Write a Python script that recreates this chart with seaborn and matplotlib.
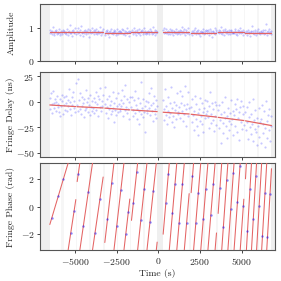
import numpy as np
import pandas as pd
import seaborn as sns
import matplotlib.pyplot as plt

# scans (s)
scan_start = [-6510, -4870, -3210, -1610, 290, 1970, 3590, 5230]
scan_end = [-4950, -3310, -1710, -70, 1850, 3490, 5130, 6790]

# amplitude: model per scan and measured points
amp_model = [0.87, 0.87, 0.86, 0.87, 0.87, 0.86, 0.87, 0.86]
amp_points = [
    [0.85, 0.93, 0.88, 0.81, 0.90, 1.02, 0.86, 0.79, 0.92, 0.87, 0.95, 0.83, 0.89, 0.84, 0.97, 0.86, 0.78, 0.91, 0.88, 0.82,
     0.94, 0.87, 0.90, 0.85, 0.89, 0.83, 0.96, 0.87, 0.80, 0.91, 0.86, 1.08, 0.84, 0.90, 0.77, 0.93, 0.88, 0.85, 0.99, 0.82],
    [0.91, 0.84, 0.99, 0.87, 0.80, 0.93, 1.05, 0.86, 0.89, 0.76, 0.92, 0.85, 0.95, 0.88, 0.82, 0.90, 0.97, 0.84, 0.72, 0.89,
     0.93, 0.86, 1.01, 0.88, 0.87, 0.94, 0.83, 0.90, 0.86, 0.98, 0.81, 0.89, 0.92, 0.85, 1.04, 0.88, 0.79, 0.91, 0.84, 0.96],
    [0.86, 0.80, 0.92, 0.88, 0.95, 0.83, 0.87, 0.74, 0.90, 0.85, 0.98, 0.84, 0.89, 0.81, 0.93, 0.87, 0.90, 0.79, 0.85, 0.96,
     0.88, 0.83, 0.91, 0.86, 0.90, 0.84, 0.88, 0.97, 0.82, 0.93, 0.86, 0.79, 0.91, 0.87, 1.00, 0.85, 0.89, 0.76, 0.92, 0.88],
    [0.89, 0.94, 0.83, 0.87, 1.00, 0.85, 0.91, 0.78, 0.88, 0.93, 0.84, 0.97, 0.86, 0.80, 0.92, 0.87, 0.95, 0.82, 0.89, 0.99,
     0.85, 0.90, 0.83, 0.88, 0.85, 0.92, 0.88, 0.81, 0.96, 0.87, 0.90, 0.83, 1.03, 0.86, 0.89, 0.79, 0.93, 0.84, 0.91, 0.87],
    [0.93, 0.86, 1.00, 0.89, 0.84, 0.96, 0.88, 0.81, 0.92, 0.87, 0.98, 0.83, 0.90, 0.86, 0.94, 0.79, 0.88, 0.91, 0.85, 0.97,
     0.87, 0.82, 0.90, 0.86, 0.88, 0.95, 0.82, 0.90, 1.04, 0.86, 0.91, 0.84, 0.97, 0.80, 0.89, 0.93, 0.85, 0.99, 0.87, 0.83],
    [0.84, 0.90, 0.78, 0.88, 0.93, 0.85, 0.99, 0.87, 0.81, 0.91, 0.86, 0.95, 0.83, 0.88, 0.76, 0.92, 0.87, 0.84, 0.96, 0.89,
     0.82, 0.90, 0.86, 0.93, 0.91, 0.85, 0.94, 0.80, 0.88, 0.97, 0.84, 0.90, 0.74, 0.87, 0.92, 0.86, 1.01, 0.83, 0.89, 0.95],
    [0.88, 0.95, 0.84, 0.91, 1.03, 0.86, 0.82, 0.93, 0.89, 0.79, 0.90, 0.97, 0.85, 0.88, 0.92, 0.83, 0.95, 0.87, 0.81, 0.90,
     0.94, 0.86, 0.89, 0.84, 0.85, 0.91, 0.97, 0.83, 0.88, 0.79, 0.94, 0.86, 0.90, 1.01, 0.84, 0.92, 0.87, 0.80, 0.93, 0.89],
    [0.86, 0.92, 0.80, 0.89, 0.95, 0.84, 0.88, 0.77, 0.91, 0.87, 1.07, 0.85, 0.90, 0.82, 0.94, 0.88, 0.79, 0.92, 0.86, 0.98,
     0.84, 0.89, 0.83, 0.87, 0.90, 0.84, 0.95, 0.88, 0.81, 0.93, 0.86, 1.13, 0.89, 0.78, 0.92, 0.85, 0.97, 0.87, 0.83, 0.91],
]

# fringe delay (ns): model at scan start / end and measured points
delay_model_start = [-3.2, -4.9, -6.3, -8.1, -10.3, -12.3, -15.3, -18.7]
delay_model_end = [-4.8, -6.1, -8.0, -9.7, -12.0, -15.0, -18.4, -23.3]
delay_points = [
    [4, -7, 8, -2, -11, 10, -1, -6, 3, -9, 0, 6, -5, -2, -10, 3, -14, -4, 7, 1,
     -12, 5, -3, -8, -1, 6, -9, 2, -4, 12, -7, 0, -13, 5, -3, 9, -6, 1, -10, 18],
    [-3, 22, -9, 2, -7, 8, -12, -4, 5, -1, -15, 3, -8, 11, -6, 0, -10, 4, -3, -13,
     7, -5, -9, 1, -6, 4, -11, 0, 9, -8, -2, 6, -14, 3, -5, 13, -9, 1, -4, 7],
    [-2, 14, -11, -5, 3, -16, -7, 6, -3, -12, 1, -9, 9, -6, -20, -1, -8, 4, -13, -4,
     8, -10, -2, -7, -9, 2, -4, 11, -14, -1, 6, -8, 16, -5, -11, 3, -7, 0, -17, 5],
    [-5, 5, -14, -8, 2, -11, 10, -3, -17, -7, 4, -9, -22, -1, -12, 19, -6, -15, 3, -10,
     -4, -30, 1, -8, -11, 0, -6, 8, -13, -3, 13, -9, -1, -19, 6, -7, -12, 2, -16, -4],
    [2, -18, -7, 12, -13, -4, -22, -9, 5, -15, -1, -11, 14, -20, -6, -14, 0, -25, -8, -3,
     -17, 8, -12, -10, -5, 10, -16, -1, -9, 6, -19, -3, -12, 15, -7, -24, -2, 9, -14, -6],
    [-5, -20, 3, -13, -28, -9, 6, -17, -2, -24, -11, -33, -7, 4, -19, -14, -1, -22, -10, -30,
     -6, -16, 2, -12, -9, 1, -15, -26, -4, 9, -21, -12, -1, -18, -7, -29, 0, -14, -23, -3],
    [-8, -26, -3, -18, -40, -12, 0, -21, -31, -10, -16, 5, -24, -14, -35, -6, -19, -28, -11, 2,
     -22, -17, -33, -9, -13, -2, -24, -7, 3, -30, -16, -10, -37, -5, -20, 1, -27, -12, -4, -23],
    [-10, -28, -5, -20, -36, -15, 0, -25, -32, -12, -22, 3, -38, -18, -27, -8, -30, -42, -16, -24,
     -6, -34, -20, -40, -17, -3, -31, -22, -9, -44, -26, 1, -19, -35, -13, -28, -7, -38, -24, -14],
]

# fringe phase (rad): phase at scan start, wrap times, phase at scan end
phase_start = [-1.3, 1.8, -2.6, -1.0, -2.0, 1.0, -0.5, 2.0]
phase_wraps = [
    [-5410],
    [-4708, -3948],
    [-2662, -2062],
    [-1241, -681, -121],
    [658, 1108, 1558],
    [2116, 2546, 2976, 3406],
    [3804, 4174, 4544, 4914],
    [5285, 5590, 5895, 6200, 6505],
]
phase_end = [0.5, 2.13, 0.54, -2.57, 0.93, -1.91, 0.53, 2.73]

# measured phase points (time, phase)
phase_pt_t = [-6400, -6000, -5700, -5250, -5050,
              -4800, -4500, -4200, -3800, -3500,
              -3050, -2800, -2500, -2250, -1950, -1800,
              -1500, -1300, -1050, -850, -500, -300,
              450, 600, 850, 1000, 1250, 1450, 1700,
              2050, 2250, 2400, 2700, 2850, 3150, 3300,
              3700, 3900, 4100, 4350, 4500, 4750, 4900, 5100,
              5350, 5500, 5700, 5850, 6050, 6250, 6400, 6550, 6700]
phase_pt_v = [-0.86, 0.76, 1.97, -1.88, -0.30,
              2.38, -1.42, 1.06, -1.92, 0.56,
              -0.92, 1.69, -1.44, 1.17, -1.97, -0.40,
              0.23, 2.48, -1.00, 1.25, -1.11, 1.13,
              0.23, 2.33, -0.46, 1.63, -1.16, 1.63, -1.16,
              2.17, -1.18, 1.01, -0.89, 1.30, -0.60, 1.59,
              1.37, -1.51, 1.88, -0.15, 2.39, 0.36, 2.90, 0.02,
              -1.80, 1.29, -0.88, 2.21, 0.05, -2.11, 0.98, -2.22, 0.87]

bands_dark = [(-7200, -6510), (-70, 290), (6790, 7100)]
bands_light = [(-5850, -5650), (-4950, -4870), (-4130, -4050), (-3310, -3210), (-2500, -2420),
               (-1710, -1610), (-900, -820), (1850, 1970), (2700, 2780), (3490, 3590),
               (4330, 4410), (5130, 5230), (5950, 6030)]

rows = []
for i in range(len(scan_start)):
    n = len(amp_points[i])
    tt = np.linspace(scan_start[i], scan_end[i], n)
    for j in range(n):
        rows.append({"time": tt[j], "amp": amp_points[i][j], "delay": delay_points[i][j]})
df = pd.DataFrame(rows)
df_phase = pd.DataFrame({"time": phase_pt_t, "phase": phase_pt_v})

sns.set_style("ticks")
plt.rcParams.update({
    "font.family": "serif",
    "font.serif": ["cmr10"],
    "mathtext.fontset": "cm",
    "axes.formatter.use_mathtext": True,
    "font.size": 7,
    "axes.edgecolor": "#555555",
    "axes.linewidth": 0.8,
    "xtick.major.size": 2.5,
    "ytick.major.size": 2.5,
    "xtick.major.width": 0.6,
    "ytick.major.width": 0.6,
})

fig = plt.figure(figsize=(2.81, 2.81), dpi=100)
ax1 = fig.add_axes([0.1423, 0.7829, 0.8363, 0.2028])
ax2 = fig.add_axes([0.1423, 0.4413, 0.8363, 0.3025], sharex=ax1)
ax3 = fig.add_axes([0.1423, 0.1103, 0.8363, 0.3096], sharex=ax1)

red = "#e46464"
for ax in (ax1, ax2, ax3):
    for a, b in bands_dark:
        ax.axvspan(a, b, color="#efefef", lw=0, zorder=0)
    for a, b in bands_light:
        ax.axvspan(a, b, color="#f6f6f6", lw=0, zorder=0)

# amplitude
sns.scatterplot(data=df, x="time", y="amp", ax=ax1, color="blue", s=2.5, alpha=0.22, linewidth=0, zorder=2)
for s, e, m in zip(scan_start, scan_end, amp_model):
    ax1.plot([s, e], [m, m], color=red, lw=0.9, zorder=3)
ax1.set_ylim(0, 1.73)
ax1.set_yticks([0, 1])
ax1.set_ylabel("Amplitude")

# delay
sns.scatterplot(data=df, x="time", y="delay", ax=ax2, color="blue", s=2.5, alpha=0.22, linewidth=0, zorder=2)
for s, e, a, b in zip(scan_start, scan_end, delay_model_start, delay_model_end):
    ax2.plot([s, e], [a, b], color=red, lw=0.9, zorder=3)
ax2.set_ylim(-54, 29)
ax2.set_yticks([-50, -25, 0, 25])
ax2.set_ylabel("Fringe Delay (ns)")

# phase
px, py = [], []
for s, e, p0, w, p1 in zip(scan_start, scan_end, phase_start, phase_wraps, phase_end):
    xs = [s] + w
    ys0 = [p0] + [-np.pi] * len(w)
    xe = w + [e]
    ye = [np.pi] * len(w) + [p1]
    for a, ya, b, yb in zip(xs, ys0, xe, ye):
        px += [a, b, np.nan]
        py += [ya, yb, np.nan]
ax3.plot(px, py, color=red, lw=0.75, zorder=3)
sns.scatterplot(data=df_phase, x="time", y="phase", ax=ax3, color="blue", s=3, alpha=0.45, linewidth=0, zorder=4)
ax3.set_ylim(-np.pi, np.pi)
ax3.set_yticks([-2, 0, 2])
ax3.set_ylabel("Fringe Phase (rad)")
ax3.set_xlabel("Time (s)", labelpad=2)

ax1.set_xlim(-7100, 7000)
ax3.set_xticks([-5000, -2500, 0, 2500, 5000])
for ax in (ax1, ax2):
    ax.tick_params(labelbottom=False)
    ax.set_xlabel("")
for ax in (ax1, ax2, ax3):
    ax.yaxis.set_label_coords(-0.105, 0.5)
    ax.tick_params(pad=1.5)

fig.savefig("out.png", dpi=100)
